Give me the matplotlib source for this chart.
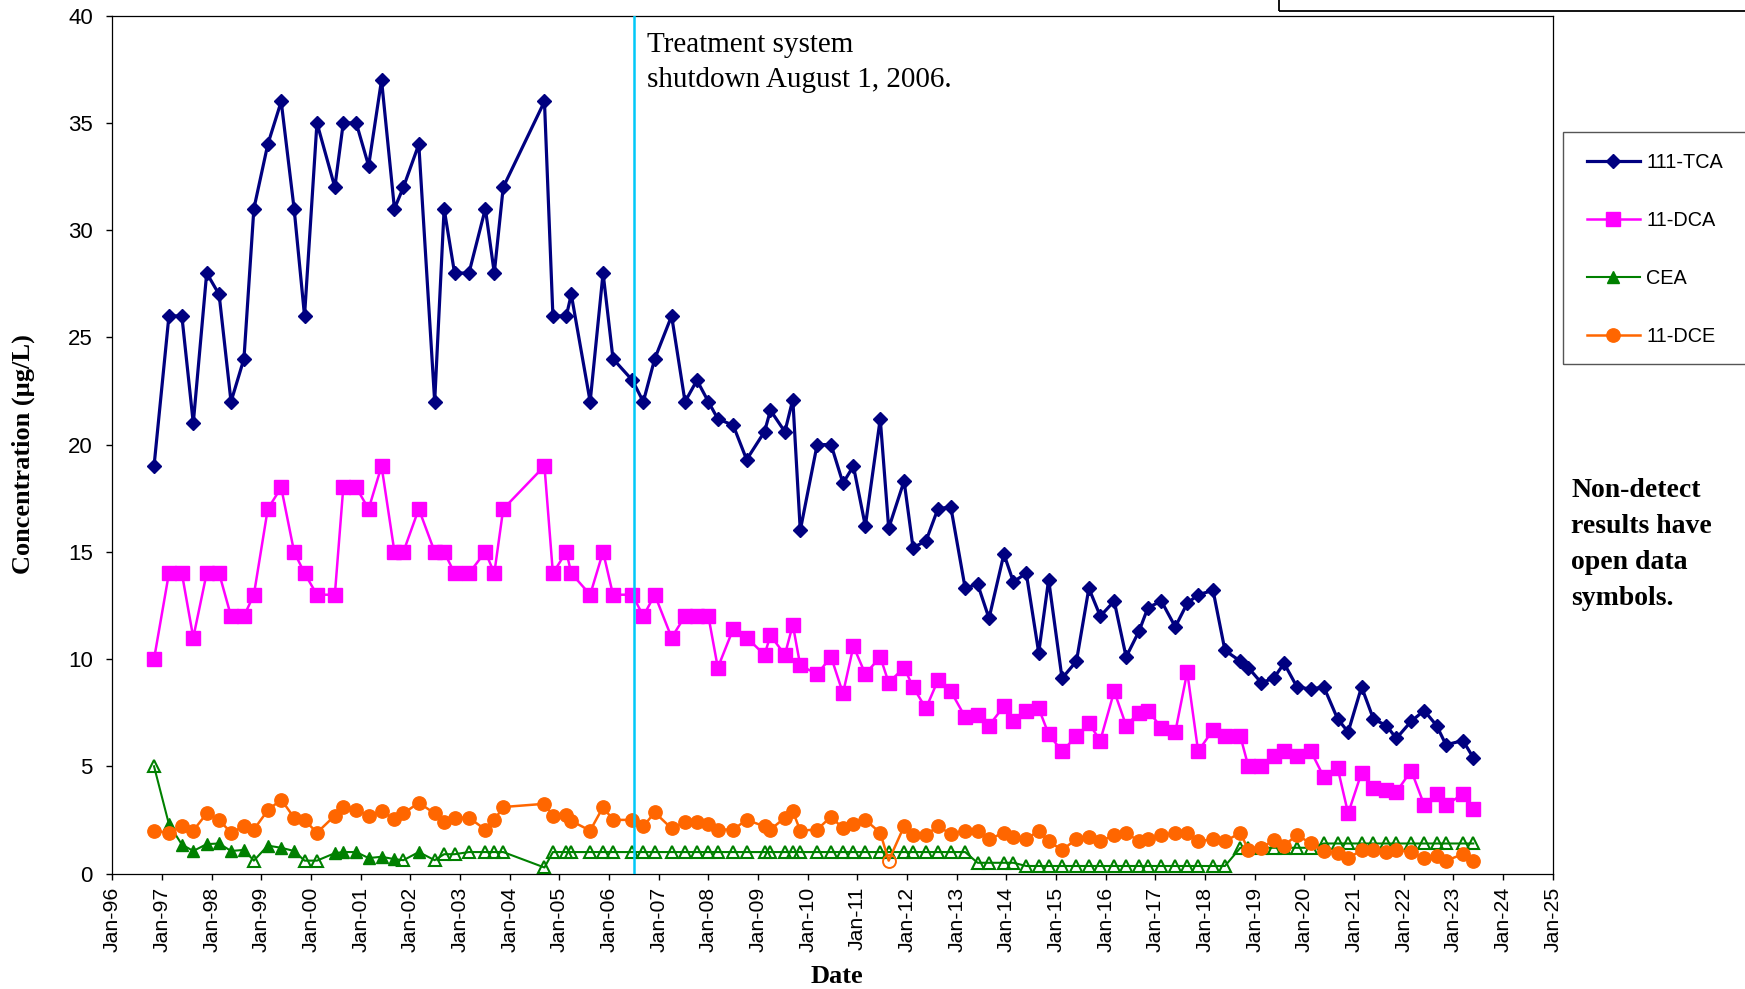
import matplotlib
matplotlib.use("Agg")
import matplotlib.pyplot as plt
from matplotlib.lines import Line2D
from matplotlib.patches import Rectangle
import numpy as np

# sample dates as decimal years
sample_year = [1996.84, 1997.14, 1997.40, 1997.63, 1997.90, 1998.15, 1998.39, 1998.65, 1998.85, 1999.13,
               1999.40, 1999.66, 1999.87, 2000.12, 2000.48, 2000.65, 2000.91, 2001.16, 2001.42, 2001.68,
               2001.86, 2002.17, 2002.49, 2002.68, 2002.89, 2003.18, 2003.51, 2003.69, 2003.87, 2004.70,
               2004.87, 2005.14, 2005.24, 2005.62, 2005.88, 2006.08, 2006.47, 2006.69, 2006.92, 2007.26,
               2007.53, 2007.77, 2008.00, 2008.19, 2008.50, 2008.77, 2009.13, 2009.25, 2009.54, 2009.70,
               2009.85, 2010.19, 2010.47, 2010.71, 2010.92, 2011.16, 2011.46, 2011.63, 2011.94, 2012.12,
               2012.38, 2012.62, 2012.88, 2013.17, 2013.42, 2013.65, 2013.95, 2014.14, 2014.40, 2014.65,
               2014.85, 2015.12, 2015.41, 2015.66, 2015.89, 2016.17, 2016.41, 2016.67, 2016.85, 2017.12,
               2017.40, 2017.64, 2017.86, 2018.16, 2018.40, 2018.71, 2018.87, 2019.13, 2019.38, 2019.59,
               2019.85, 2020.13, 2020.39, 2020.67, 2020.88, 2021.15, 2021.39, 2021.65, 2021.85, 2022.15,
               2022.41, 2022.66, 2022.85, 2023.19, 2023.40]

tca = [19, 26, 26, 21, 28, 27, 22, 24, 31, 34,
       36, 31, 26, 35, 32, 35, 35, 33, 37, 31,
       32, 34, 22, 31, 28, 28, 31, 28, 32, 36,
       26, 26, 27, 22, 28, 24, 23, 22, 24, 26,
       22, 23, 22, 21.2, 20.9, 19.3, 20.6, 21.6, 20.6, 22.1,
       16.0, 20.0, 20.0, 18.2, 19.0, 16.2, 21.2, 16.1, 18.3, 15.2,
       15.5, 17.0, 17.1, 13.3, 13.5, 11.9, 14.9, 13.6, 14.0, 10.3,
       13.7, 9.1, 9.9, 13.3, 12.0, 12.7, 10.1, 11.3, 12.4, 12.7,
       11.5, 12.6, 13.0, 13.2, 10.4, 9.9, 9.6, 8.9, 9.1, 9.8,
       8.7, 8.6, 8.7, 7.2, 6.6, 8.7, 7.2, 6.9, 6.3, 7.1,
       7.6, 6.9, 6.0, 6.2, 5.4]

dca = [10, 14, 14, 11, 14, 14, 12, 12, 13, 17,
       18, 15, 14, 13, 13, 18, 18, 17, 19, 15,
       15, 17, 15, 15, 14, 14, 15, 14, 17, 19,
       14, 15, 14, 13, 15, 13, 13, 12, 13, 11,
       12, 12, 12, 9.6, 11.4, 11.0, 10.2, 11.1, 10.2, 11.6,
       9.7, 9.3, 10.1, 8.4, 10.6, 9.3, 10.1, 8.9, 9.6, 8.7,
       7.7, 9.0, 8.5, 7.3, 7.4, 6.9, 7.8, 7.1, 7.6, 7.7,
       6.5, 5.7, 6.4, 7.0, 6.2, 8.5, 6.9, 7.5, 7.6, 6.8,
       6.6, 9.4, 5.7, 6.7, 6.4, 6.4, 5.0, 5.0, 5.5, 5.7,
       5.5, 5.7, 4.5, 4.9, 2.8, 4.7, 4.0, 3.9, 3.8, 4.8,
       3.2, 3.7, 3.2, 3.7, 3.0]

cea = [5.0, 2.3, 1.35, 1.05, 1.37, 1.4, 1.05, 1.1, 0.6, 1.3,
       1.2, 1.05, 0.6, 0.6, 0.95, 1.0, 1.0, 0.72, 0.78, 0.67,
       0.62, 1.0, 0.62, 0.9, 0.9, 1.0, 1.0, 1.0, 1.0, 0.28,
       1.0, 1.0, 1.0, 1.0, 1.0, 1.0, 1.0, 1.0, 1.0, 1.0,
       1.0, 1.0, 1.0, 1.0, 1.0, 1.0, 1.0, 1.0, 1.0, 1.0,
       1.0, 1.0, 1.0, 1.0, 1.0, 1.0, 1.0, 1.0, 1.0, 1.0,
       1.0, 1.0, 1.0, 1.0, 0.5, 0.5, 0.5, 0.5, 0.35, 0.35,
       0.35, 0.35, 0.35, 0.35, 0.35, 0.35, 0.35, 0.35, 0.35, 0.35,
       0.35, 0.35, 0.35, 0.35, 0.35, 1.2, 1.2, 1.2, 1.2, 1.2,
       1.2, 1.2, 1.4, 1.4, 1.4, 1.4, 1.4, 1.4, 1.4, 1.4,
       1.4, 1.4, 1.4, 1.4, 1.4]

# 1 = non-detect (open symbol)
cea_nd = [1, 0, 0, 0, 0, 0, 0, 0, 1, 0,
          0, 0, 1, 1, 0, 0, 0, 0, 0, 0,
          1, 0, 1, 1, 1, 1, 1, 1, 1, 1,
          1, 1, 1, 1, 1, 1, 1, 1, 1, 1,
          1, 1, 1, 1, 1, 1, 1, 1, 1, 1,
          1, 1, 1, 1, 1, 1, 1, 1, 1, 1,
          1, 1, 1, 1, 1, 1, 1, 1, 1, 1,
          1, 1, 1, 1, 1, 1, 1, 1, 1, 1,
          1, 1, 1, 1, 1, 1, 1, 1, 1, 1,
          1, 1, 1, 1, 1, 1, 1, 1, 1, 1,
          1, 1, 1, 1, 1]

dce = [2.0, 1.9, 2.2, 2.0, 2.8, 2.5, 1.9, 2.2, 2.05, 2.95,
       3.45, 2.6, 2.5, 1.9, 2.7, 3.1, 2.95, 2.7, 2.9, 2.55,
       2.8, 3.3, 2.8, 2.4, 2.6, 2.6, 2.05, 2.5, 3.1, 3.25,
       2.7, 2.75, 2.45, 2.0, 3.1, 2.5, 2.5, 2.2, 2.85, 2.1,
       2.4, 2.4, 2.3, 2.05, 2.05, 2.5, 2.2, 2.05, 2.6, 2.9,
       2.0, 2.05, 2.65, 2.1, 2.3, 2.5, 1.9, 0.6, 2.2, 1.8,
       1.8, 2.2, 1.85, 2.0, 2.0, 1.6, 1.9, 1.7, 1.6, 2.0,
       1.5, 1.1, 1.6, 1.7, 1.5, 1.8, 1.9, 1.5, 1.6, 1.8,
       1.9, 1.9, 1.5, 1.6, 1.5, 1.9, 1.1, 1.2, 1.55, 1.3,
       1.8, 1.4, 1.05, 0.95, 0.7, 1.1, 1.1, 1.0, 1.1, 1.0,
       0.7, 0.8, 0.6, 0.9, 0.6]

dce_nd = [0] * 57 + [1] + [0] * 47

shutdown = 2006.51
years = list(range(1996, 2026))
year_labels = ["Jan-%02d" % (y % 100) for y in years]

navy = "#000080"
magenta = "#FF00FF"
green = "#008000"
orange = "#FF6600"

fig = plt.figure(figsize=(17.45, 9.89), dpi=100)
ax = fig.add_axes([0.06436, 0.11678, 0.8255, 0.86735])

x = np.array(sample_year)

ax.plot(x, tca, color=navy, lw=2.3, marker="D", ms=7, mec=navy, mfc=navy, zorder=3)
ax.plot(x, dca, color=magenta, lw=1.8, marker="s", ms=10, mec=magenta, mfc=magenta, zorder=3)

cea = np.array(cea)
nd = np.array(cea_nd) == 1
ax.plot(x, cea, color=green, lw=1.5, zorder=3)
ax.plot(x[~nd], cea[~nd], ls="none", marker="^", ms=9, color=green, zorder=3)
ax.plot(x[nd], cea[nd], ls="none", marker="^", ms=8.8, mfc="none", mec=green, mew=1.5, zorder=3)

dce = np.array(dce)
nd2 = np.array(dce_nd) == 1
ax.plot(x, dce, color=orange, lw=1.8, zorder=4)
ax.plot(x[~nd2], dce[~nd2], ls="none", marker="o", ms=9.6, color=orange, zorder=4)
ax.plot(x[nd2], dce[nd2], ls="none", marker="o", ms=9.3, mfc="none", mec=orange, mew=1.4, zorder=4)

ax.axvline(shutdown, color="#00C8F8", lw=1.8, zorder=5)

ax.set_xlim(1996, 2025)
ax.set_ylim(0, 40)
ax.set_xticks(years)
ax.set_xticklabels(year_labels, rotation=90, fontsize=15.3, family="Liberation Sans")
ax.set_yticks(range(0, 41, 5))
ax.set_yticklabels([str(v) for v in range(0, 41, 5)], fontsize=16, family="Liberation Sans")
ax.tick_params(axis="x", direction="out", length=4, width=1, pad=5.5)
ax.tick_params(axis="y", direction="out", length=4, width=1, pad=10)
for s in ax.spines.values():
    s.set_linewidth(0.9)
    s.set_color("black")

# text
serif = "Liberation Serif"
fig.text(0.3707, 0.9477, "Treatment system", fontsize=21, family=serif, va="baseline")
fig.text(0.3707, 0.9117, "shutdown August 1, 2006.", fontsize=21, family=serif, va="baseline")

nd_lines = ["Non-detect", "results have", "open data", "symbols."]
for i, t in enumerate(nd_lines):
    fig.text(0.9003, 1 - (497 + 36 * i) / 989, t, fontsize=20, family=serif,
             fontweight="bold", va="baseline")

fig.text(0.01347, 0.5404, "Concentration (\u00b5g/L)", rotation=90, fontsize=19,
         family=serif, fontweight="bold", ha="center", va="center")
fig.text(0.4797, 0.0065, "Date", fontsize=19, family=serif, fontweight="bold",
         ha="center", va="baseline")

# legend
handles = [
    Line2D([], [], color=navy, lw=2.3, marker="D", ms=7),
    Line2D([], [], color=magenta, lw=1.8, marker="s", ms=10),
    Line2D([], [], color=green, lw=1.5, marker="^", ms=9),
    Line2D([], [], color=orange, lw=1.8, marker="o", ms=9.6),
]
labels = ["111-TCA", "11-DCA", "CEA", "11-DCE"]
fig.legend(handles, labels, loc="upper left", bbox_to_anchor=(0.9092, 0.8449),
           frameon=False, borderpad=0, borderaxespad=0, handlelength=2.7,
           handletextpad=0.3, labelspacing=1.96,
           prop={"family": "Liberation Sans", "size": 14.3})
fig.add_artist(Rectangle((0.8957, 0.6320), 0.2, 0.2343, transform=fig.transFigure,
                         fill=False, ec="#555555", lw=1))
# box cut at top right
fig.add_artist(Rectangle((0.7331, 0.98888), 0.3, 0.05, transform=fig.transFigure,
                         fill=False, ec="black", lw=1.3))

fig.savefig("out.png", dpi=100)
